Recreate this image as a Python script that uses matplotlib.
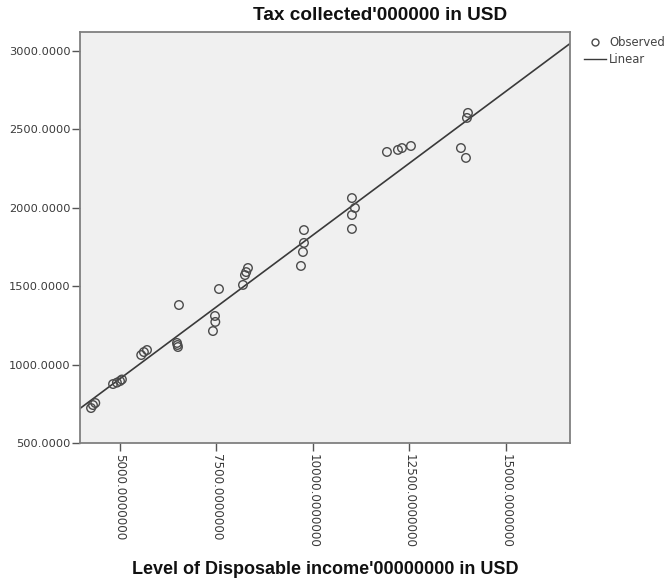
import numpy as np
import matplotlib
matplotlib.use("Agg")
import matplotlib.pyplot as plt
from matplotlib.lines import Line2D

plt.rcParams['font.family'] = ['DejaVu Sans']

# Level of Disposable income'00000000 in USD
income = [4250, 4300, 4360,
          4820, 4920, 5000, 5050,
          5550, 5620, 5700,
          6528, 6477, 6502, 6490,
          7565, 7461, 7470, 7409,
          8187, 8238, 8270, 8316,
          9767, 9767, 9741, 9689,
          11010, 11088, 11010, 11010,
          11917, 12202, 12306, 12539,
          14016, 13990, 13834, 13964]
# Tax collected'000000 in USD
tax = [723, 742, 755,
       876, 885, 895, 905,
       1061, 1080, 1093,
       1380, 1138, 1112, 1125,
       1482, 1310, 1272, 1214,
       1508, 1571, 1590, 1616,
       1858, 1776, 1718, 1629,
       2062, 1999, 1954, 1865,
       2356, 2369, 2381, 2394,
       2605, 2573, 2381, 2318]

x_ticks = [5000, 7500, 10000, 12500, 15000]
y_ticks = [500, 1000, 1500, 2000, 2500, 3000]
x_limits = (3964, 16660)
y_limits = (500, 3121)

fig = plt.figure(figsize=(6.68, 5.84), dpi=100)
ax = fig.add_axes([80/668, 1-443/584, 490/668, 411/584])
ax.set_facecolor('#F0F0F0')

slope, intercept = np.polyfit(income, tax, 1)
xl = np.array(x_limits, dtype=float)
ax.plot(xl, intercept + slope * xl, color='#3a3a3a', lw=1.2, zorder=2)
ax.scatter(income, tax, s=38, facecolors='none', edgecolors='#4a4a4a',
           linewidths=1.0, zorder=3)

ax.set_xlim(*x_limits)
ax.set_ylim(*y_limits)
ax.set_xticks(x_ticks)
ax.set_yticks(y_ticks)
ax.set_xticklabels([f"{v:.7f}" for v in x_ticks], rotation=270,
                   fontsize=8.6, color='#3a3a3a')
ax.set_yticklabels([f"{v:.4f}" for v in y_ticks], fontsize=8.2, color='#3a3a3a')
ax.tick_params(direction='out', length=6, width=1, color='#555555')
ax.tick_params(axis='y', pad=1)
ax.tick_params(axis='x', pad=2)
for sp in ax.spines.values():
    sp.set_color('#808080')
    sp.set_linewidth(1.3)

fig.text(380/668, 1-15/584, "Tax collected'000000 in USD", ha='center',
         va='center', fontsize=13.7, fontweight='bold', color='#111111',
         family='Liberation Sans')
fig.text(325/668, 1-570/584, "Level of Disposable income'00000000 in USD",
         ha='center', va='center', fontsize=13, fontweight='bold', color='#111111',
         family='Liberation Sans')

handles = [Line2D([], [], marker='o', ls='none', markerfacecolor='none',
                  markeredgecolor='#4a4a4a', markersize=5),
           Line2D([], [], color='#3a3a3a', lw=1.0)]
fig.legend(handles, ['Observed', 'Linear'], loc='upper left',
           bbox_to_anchor=(584/668, 1-36/584), frameon=False, fontsize=8.4,
           handlelength=1.9, handletextpad=0.25, labelspacing=0.35,
           borderaxespad=0, borderpad=0, labelcolor='#444444')

fig.savefig('out.png', dpi=100)
